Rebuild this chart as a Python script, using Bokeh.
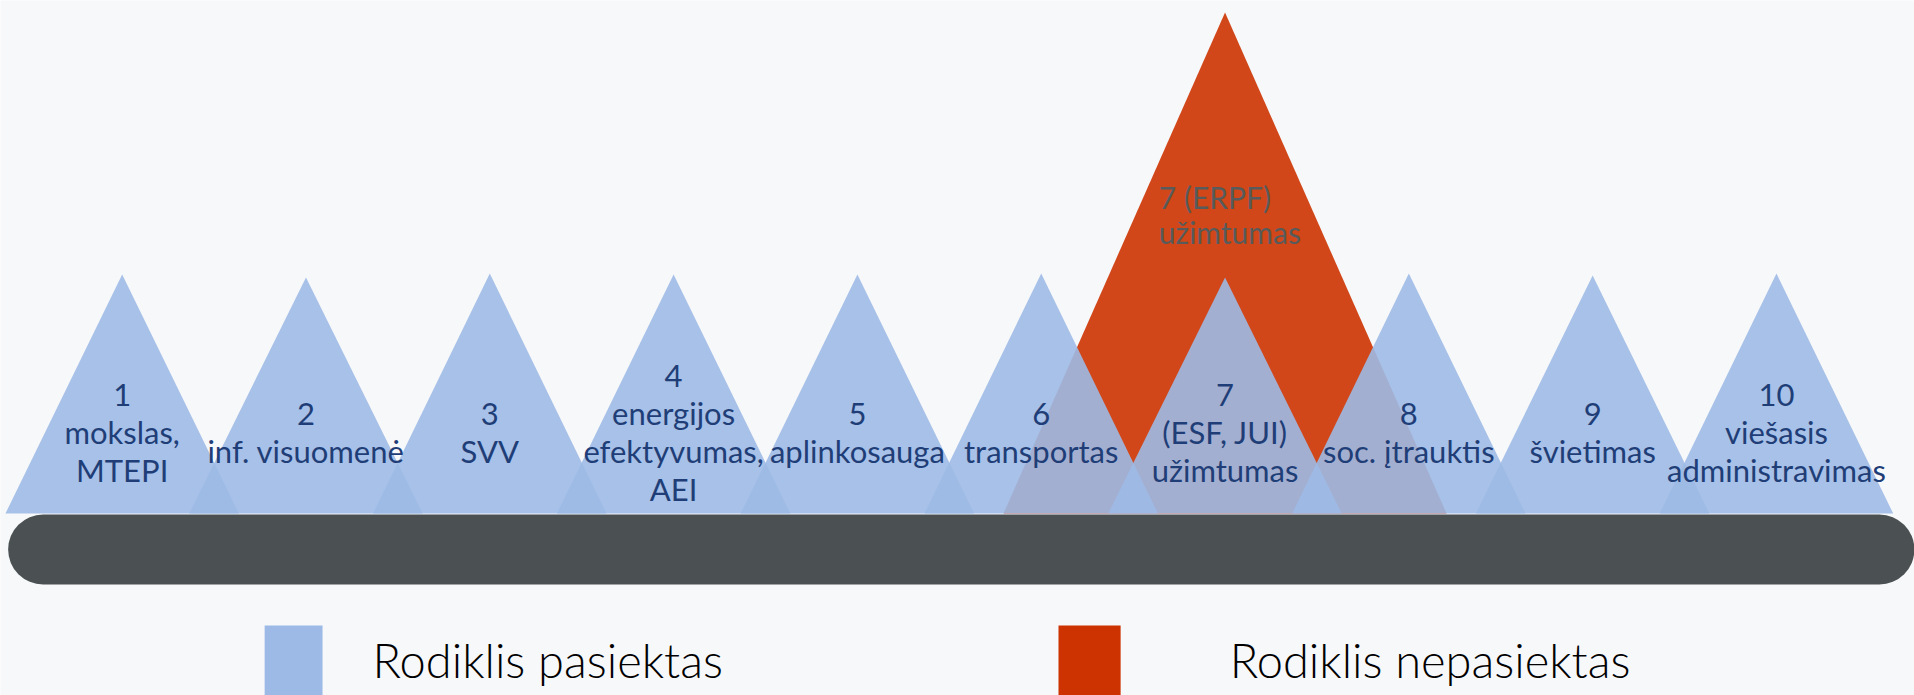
from bokeh.plotting import figure
from bokeh.models import Range1d, ColumnDataSource
from bokeh.core.properties import value
from bokeh.embed import file_html
from bokeh.resources import INLINE

# ---- data ----
achieved_labels = [
    "1\nmokslas,\nMTEPI",
    "2\ninf. visuomenė",
    "3\nSVV",
    "4\nenergijos\nefektyvumas,\nAEI",
    "5\naplinkosauga",
    "6\ntransportas",
    "7\n(ESF, JUI)\nužimtumas",
    "8\nsoc. įtrauktis",
    "9\nšvietimas",
    "10\nviešasis\nadministravimas",
]
achieved_index = [0, 1, 2, 3, 4, 5, 6, 7, 8, 9]
achieved_height = [239, 236, 240, 239, 239, 240, 236, 240, 238, 240]

missed_labels = ["7 (ERPF)\nužimtumas"]
missed_index = [6]
missed_height = [501]

legend_labels = ["Rodiklis pasiektas", "Rodiklis nepasiektas"]

# ---- styles ----
BG = "#f7f8fa"
BLUE = "#9dbae6"
RED = "#cc3300"
BAR = "#4b5152"
TXT = "#1f3e77"
HW_BLUE = 0.635
HW_RED = 1.205

W, H = 1914, 695
p = figure(width=W, height=H, output_backend="svg", toolbar_location=None,
           x_range=Range1d(-0.662, 9.751), y_range=Range1d(-182, 513),
           min_border=0, background_fill_color=BG, border_fill_color=BG,
           outline_line_color=None)
p.axis.visible = False
p.grid.visible = False

# bar
p.line(x=[-0.43, 9.56], y=[-36, -36], line_width=70, line_color=BAR, line_cap="round")

# red triangle(s)
rxs = [[i - HW_RED, i, i + HW_RED] for i in missed_index]
rys = [[0, h, 0] for h in missed_height]
p.patches(xs=rxs, ys=rys, fill_color=RED, fill_alpha=0.9, line_color=None)

# blue triangles
bxs = [[i - HW_BLUE, i, i + HW_BLUE] for i in achieved_index]
bys = [[0, h, 0] for h in achieved_height]
p.patches(xs=bxs, ys=bys, fill_color=BLUE, fill_alpha=0.9, line_color=None)

# labels
src = ColumnDataSource(dict(x=achieved_index, y=[82] * len(achieved_index), t=achieved_labels))
p.text(x="x", y="y", text="t", source=src, text_align="center", text_baseline="middle",
       text_font=value("Lato"), text_font_size="31px", text_color=TXT, text_line_height=1.0)

rsrc = ColumnDataSource(dict(x=[i - 0.36 for i in missed_index], y=[299], t=missed_labels))
p.text(x="x", y="y", text="t", source=rsrc, text_align="left", text_baseline="middle",
       text_font=value("Lato"), text_font_size="30px", text_color="#575b5b", text_line_height=0.98)

# legend
p.quad(left=[0.775], right=[1.090], top=[-112], bottom=[-200], fill_color=BLUE, line_color=None)
p.quad(left=[5.094], right=[5.432], top=[-112], bottom=[-200], fill_color=RED, line_color=None)
lsrc = ColumnDataSource(dict(x=[1.362, 6.025], y=[-146, -146], t=legend_labels))
p.text(x="x", y="y", text="t", source=lsrc, text_align="left", text_baseline="middle",
       text_font=value("'Lato Light', Lato"), text_font_size="47px", text_color="#000000")

open("out.html", "w").write(file_html(p, INLINE))
